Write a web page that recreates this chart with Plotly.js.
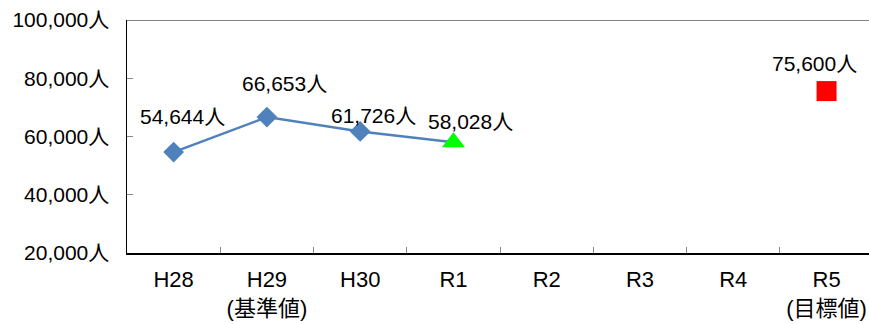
<!DOCTYPE html>
<html>
<head>
<meta charset="utf-8">
<script src="https://cdn.plot.ly/plotly-3.0.1.min.js"></script>
<style>html,body{margin:0;padding:0;background:#fff;}#chart{width:869px;height:324px;}</style>
</head>
<body>
<div id="chart"></div>
<script>
// categories (tick labels)
const categories = ['H28', 'H29<br>(基準値)', 'H30', 'R1', 'R2', 'R3', 'R4', 'R5<br>(目標値)'];
// actual values
const actualCats = ['H28', 'H29<br>(基準値)', 'H30', 'R1'];
const actualValues = [54644, 66653, 61726, 58028];
// target value
const targetCats = ['R5<br>(目標値)'];
const targetValues = [75600];
const unit = '人';

const fmt = v => v.toLocaleString('en-US') + unit;

const blue = '#4F81BD';
const labelFont = {family: 'Liberation Sans, Arial, Noto Sans CJK JP, sans-serif', size: 21, color: '#000'};

const traces = [
  {
    x: actualCats, y: actualValues, type: 'scatter', mode: 'lines+markers',
    line: {color: blue, width: 2.5},
    marker: {
      symbol: ['diamond', 'diamond', 'diamond', 'triangle-up'],
      color: [blue, blue, blue, '#00FF00'],
      size: [16, 16, 16, 20],
      opacity: 1,
      line: {width: 0}
    },
    opacity: 1,
    cliponaxis: false, hoverinfo: 'none'
  },
  {
    x: targetCats, y: targetValues, type: 'scatter', mode: 'markers',
    marker: {symbol: 'square', color: '#FF0000', size: 20, opacity: 1, line: {width: 0}},
    opacity: 1,
    cliponaxis: false, hoverinfo: 'none'
  }
];

// label offsets (pixels) for each annotation
const shifts = [[9, 36], [18, 34], [13, 16], [17, 21]];
const annotations = actualCats.map((c, i) => ({
  x: c, y: actualValues[i], xref: 'x', yref: 'y', text: fmt(actualValues[i]),
  showarrow: false, xshift: shifts[i][0], yshift: shifts[i][1], font: labelFont
}));
annotations.push({
  x: targetCats[0], y: targetValues[0], xref: 'x', yref: 'y', text: fmt(targetValues[0]),
  showarrow: false, xshift: -12, yshift: 28, font: labelFont
});

const layout = {
  width: 869, height: 324,
  margin: {l: 127, r: 0, t: 20, b: 71, pad: 0},
  paper_bgcolor: '#fff', plot_bgcolor: '#fff',
  showlegend: false,
  xaxis: {
    type: 'category', categoryorder: 'array', categoryarray: categories,
    range: [-0.5, 7.455], tickson: 'boundaries',
    ticks: 'inside', ticklen: 6, tickcolor: '#888', tickwidth: 1,
    showline: true, linecolor: '#000', linewidth: 1.5,
    showgrid: false, zeroline: false,
    tickfont: {family: 'Liberation Sans Narrow, Liberation Sans, Noto Sans CJK JP, sans-serif', size: 22, color: '#000'},
    ticklabelstandoff: 6,
    fixedrange: true
  },
  yaxis: {
    range: [20000, 100000], dtick: 20000, tick0: 0,
    tickformat: ',d', ticksuffix: unit,
    ticks: 'inside', ticklen: 6, tickcolor: '#888', tickwidth: 1,
    showline: true, linecolor: '#000', linewidth: 1.5,
    showgrid: false, zeroline: false,
    tickfont: {family: 'Liberation Sans, Arial, Noto Sans CJK JP, sans-serif', size: 21, color: '#000'},
    ticklabelstandoff: 12,
    fixedrange: true
  },
  shapes: [
    {type: 'line', xref: 'paper', yref: 'y', x0: 0, x1: 1, y0: 100000, y1: 100000,
     line: {color: '#595959', width: 1.5}}
  ],
  annotations: annotations
};

Plotly.newPlot('chart', traces, layout, {displayModeBar: false, staticPlot: true});
</script>
</body>
</html>
